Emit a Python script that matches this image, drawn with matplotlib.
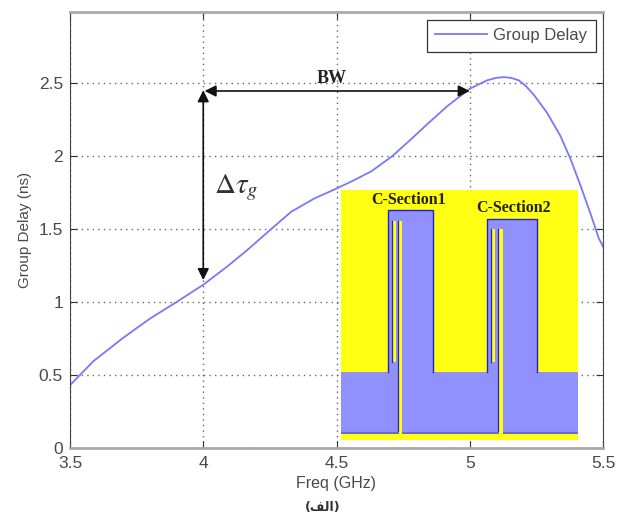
from matplotlib import pyplot as plt
from matplotlib.patches import Rectangle

freq = [3.5, 3.588, 3.7, 3.8, 3.9, 4.0, 4.09, 4.166, 4.254, 4.33, 4.417, 4.5, 4.55, 4.63, 4.71, 4.78,
        4.84, 4.915, 5.0, 5.065, 5.1, 5.128, 5.155, 5.184, 5.21, 5.24, 5.29, 5.34, 5.378, 5.415, 5.453, 5.484, 5.5]
delay = [0.43, 0.595, 0.755, 0.886, 1.0, 1.118, 1.243, 1.357, 1.498, 1.618, 1.709, 1.777, 1.82, 1.894, 2.0, 2.115,
         2.217, 2.34, 2.46, 2.518, 2.535, 2.54, 2.535, 2.518, 2.48, 2.42, 2.296, 2.138, 1.98, 1.80, 1.606, 1.437, 1.38]
x_ticks = [3.5, 4, 4.5, 5, 5.5]
x_labels = ['3.5', '4', '4.5', '5', '5.5']
y_ticks = [0, 0.5, 1, 1.5, 2, 2.5]
y_labels = ['0', '0.5', '1', '1.5', '2', '2.5']

# layout of the circuit drawing, in its own units (x0, y0, width, height)
board = (341, 190, 237, 250)
metal = [(341, 372, 237, 61), (388, 210, 45, 162), (487, 219, 50, 153)]
slots = [(392, 221, 4, 141), (398, 221, 4, 219), (491, 229, 4, 133), (498, 229, 5, 211)]
section_names = ['C-Section1', 'C-Section2']
section_pos = [(409, 200), (514, 208)]

GREY = '#4a4a4a'
YELLOW = '#ffff14'
METAL = '#9090ff'

plt.rcParams['font.family'] = ['Liberation Sans', 'DejaVu Sans']
plt.rcParams['mathtext.fontset'] = 'stix'

fig = plt.figure(figsize=(6.24, 5.15), dpi=100)
ax = fig.add_axes([70 / 624, 1 - 448 / 515, 533 / 624, 436 / 515])

ax.plot(freq, delay, color='#7878f8', lw=1.3, label='Group Delay')
ax.set_xlim(3.5, 5.5)
ax.set_ylim(0, 2.986)
ax.set_xticks(x_ticks, x_labels)
ax.set_yticks(y_ticks, y_labels)
ax.tick_params(direction='in', length=5, color='#333333', labelcolor=GREY, labelsize=12.5, top=True, right=True)
ax.tick_params(axis='x', pad=6)
ax.tick_params(axis='y', pad=5)
ax.grid(True, color='#666666', ls=(0, (1, 3)), lw=1)
ax.set_xlabel('Freq (GHz)', color=GREY, fontsize=11.5, labelpad=3.5)
ax.set_ylabel('Group Delay (ns)', color=GREY, fontsize=11, labelpad=5)
for side in ['left', 'right']:
    ax.spines[side].set_color('#444444')
for side in ['top', 'bottom']:
    ax.spines[side].set_color('#aaaaaa')
    ax.spines[side].set_linewidth(2)

leg = ax.legend(loc='upper right', fontsize=12, fancybox=False, framealpha=1, edgecolor='#333333',
                bbox_to_anchor=(0.9865, 0.982), borderaxespad=0, handlelength=3.1, handletextpad=0.4,
                borderpad=0.5, labelcolor=GREY)
leg.get_frame().set_linewidth(0.9)

arrow = dict(arrowstyle='<|-|>', color='#111111', lw=1.2, mutation_scale=17, shrinkA=0, shrinkB=0)
ax.annotate('', xy=(4.005, 2.445), xytext=(5.0, 2.445), arrowprops=arrow)
ax.annotate('', xy=(4.0, 2.45), xytext=(4.0, 1.15), arrowprops=arrow)
ax.text(4.48, 2.53, 'BW', family='Liberation Serif', weight='bold', fontsize=13,
        color='#222222', ha='center', va='center')
ax.text(4.123, 1.78, r'$\Delta\tau_g$', fontsize=21, color='#333333', ha='center', va='center')

# circuit drawing on top of the plot
inset = fig.add_axes([board[0] / 624, 1 - (board[1] + board[3]) / 515, board[2] / 624, board[3] / 515])
inset.set_xlim(board[0], board[0] + board[2])
inset.set_ylim(board[1] + board[3], board[1])
inset.axis('off')
inset.add_patch(Rectangle(board[:2], board[2], board[3], fc=YELLOW, ec='none'))
for x0, y0, w, h in metal:
    inset.add_patch(Rectangle((x0, y0), w, h, fc=METAL, ec='none'))
for x0, y0, w, h in slots:
    inset.add_patch(Rectangle((x0, y0), w, h, fc=YELLOW, ec='none'))
for x0, y0, w, h in metal[1:]:
    inset.plot([x0, x0, x0 + w, x0 + w], [y0 + h, y0, y0, y0 + h], color='#2222cc', lw=1)
for x0, y0, w, h in slots:
    inset.plot([x0, x0], [y0, min(y0 + h, 433)], color='#2222cc', lw=0.9)
inset.plot([341, 578], [433, 433], color='#6a6ac8', lw=1.5)
inset.add_patch(Rectangle((341, 434), 237, 6, fc=YELLOW, ec='none', zorder=3))
inset.add_patch(Rectangle((398.5, 431), 3.5, 9, fc=YELLOW, ec='none', zorder=3))
inset.add_patch(Rectangle((498.5, 431), 4.5, 9, fc=YELLOW, ec='none', zorder=3))
for name, pos in zip(section_names, section_pos):
    inset.text(pos[0], pos[1], name, family='Liberation Serif', weight='bold', fontsize=11.5,
               color='#222200', ha='center', va='center')

fig.text(323 / 624, 1 - 507 / 515, '(\ufed2\ufedf\ufe8d)', family=['DejaVu Sans'], weight='bold',
         fontsize=9, color='#333333', ha='center', va='center')

plt.savefig('out.png', dpi=100)
